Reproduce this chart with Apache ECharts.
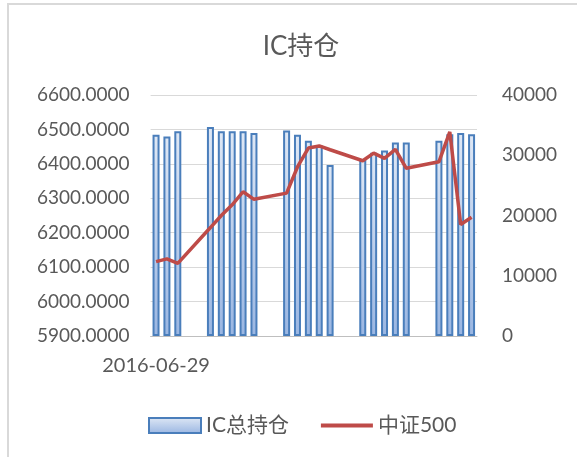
<!DOCTYPE html>
<html>
<head>
<meta charset="utf-8">
<script src="https://cdn.jsdelivr.net/npm/echarts@6/dist/echarts.min.js"></script>
<style>
  html, body { margin: 0; padding: 0; background: #fff; }
  #chart { width: 577px; height: 457px; }
</style>
</head>
<body>
<div id="chart"></div>
<script>
// 日期（含周末，周末无数据）
const dates = [
  "2016-06-29", "2016-06-30", "2016-07-01", "2016-07-02", "2016-07-03",
  "2016-07-04", "2016-07-05", "2016-07-06", "2016-07-07", "2016-07-08",
  "2016-07-09", "2016-07-10",
  "2016-07-11", "2016-07-12", "2016-07-13", "2016-07-14", "2016-07-15",
  "2016-07-16", "2016-07-17",
  "2016-07-18", "2016-07-19", "2016-07-20", "2016-07-21", "2016-07-22",
  "2016-07-23", "2016-07-24",
  "2016-07-25", "2016-07-26", "2016-07-27", "2016-07-28"
]

// IC总持仓（右轴）
const icHolding = [
  33400, 33100, 34000, null, null,
  34700, 34000, 34000, 34000, 33700,
  null, null,
  34100, 33400, 32400, 31600, 28400,
  null, null,
  29200, 30400, 30800, 32100, 32100,
  null, null,
  32400, 33500, 33700, 33500
]

// 中证500（左轴）
const csi500 = [
  6116, 6124, 6111, null, null,
  6215, 6250, 6281, 6319, 6297,
  null, null,
  6315, 6391, 6446, 6452, 6441,
  null, null,
  6409, 6431, 6416, 6442, 6387,
  null, null,
  6406, 6493, 6224, 6245
]

const textColor = "#595959"
const fontFamily = "Lato, 'Noto Sans CJK SC', sans-serif"

const myChart = echarts.init(document.getElementById("chart"))

const option = {
  animation: false,
  backgroundColor: "#fff",
  textStyle: { fontFamily: fontFamily },
  title: {
    text: "IC持仓",
    left: 296,
    top: 29,
    textAlign: "center",
    textStyle: {
      color: textColor,
      fontSize: 26,
      fontWeight: "normal",
      fontFamily: fontFamily,
    },
  },
  graphic: [
    {
      type: "polyline",
      shape: { points: [[8, 460], [8, 4], [580, 4]] },
      style: { stroke: "#d9d9d9", lineWidth: 2, fill: null },
    },
  ],
  legend: {
    left: 143,
    top: 410,
    itemGap: 30,
    itemWidth: 52,
    itemHeight: 15,
    textStyle: { color: textColor, fontSize: 21, fontFamily: fontFamily },
    data: [
      { name: "IC总持仓", icon: "rect" },
      { name: "中证500", itemStyle: { opacity: 0 }, lineStyle: { width: 4 } },
    ],
  },
  grid: {
    left: 150.6,
    right: 100,
    top: 95,
    bottom: 121,
  },
  xAxis: {
    type: "category",
    data: dates,
    boundaryGap: true,
    axisTick: { show: false },
    axisLine: { lineStyle: { color: "#bfbfbf", width: 1 } },
    axisLabel: {
      interval: (index) => index === 0,
      color: textColor,
      fontSize: 20,
      margin: 20,
    },
    splitLine: { show: false },
  },
  yAxis: [
    {
      type: "value",
      min: 5900,
      max: 6600,
      interval: 100,
      axisLine: { show: false },
      axisTick: { show: false },
      axisLabel: {
        color: textColor,
        fontSize: 19,
        margin: 21,
        formatter: (v) => v.toFixed(4),
      },
      splitLine: { lineStyle: { color: "#d9d9d9", width: 1 } },
    },
    {
      type: "value",
      min: 0,
      max: 40000,
      interval: 10000,
      axisLine: { show: false },
      axisTick: { show: false },
      axisLabel: {
        color: textColor,
        fontSize: 19,
        margin: 25,
        formatter: (v) => String(v),
      },
      splitLine: { show: false },
    },
  ],
  series: [
    {
      name: "IC总持仓",
      type: "bar",
      yAxisIndex: 1,
      data: icHolding,
      barWidth: 7,
      itemStyle: {
        borderColor: "#4a7ebb",
        borderWidth: 2,
        color: {
          type: "linear",
          x: 0,
          y: 0,
          x2: 0,
          y2: 1,
          colorStops: [
            { offset: 0, color: "#dfe8f5" },
            { offset: 1, color: "#9ab6e2" },
          ],
        },
      },
    },
    {
      name: "中证500",
      type: "line",
      yAxisIndex: 0,
      data: csi500,
      connectNulls: true,
      showSymbol: false,
      symbol: "none",
      lineStyle: { color: "#be4b48", width: 3.5 },
      itemStyle: { color: "#be4b48" },
    },
  ],
}

myChart.setOption(option)
</script>
</body>
</html>
